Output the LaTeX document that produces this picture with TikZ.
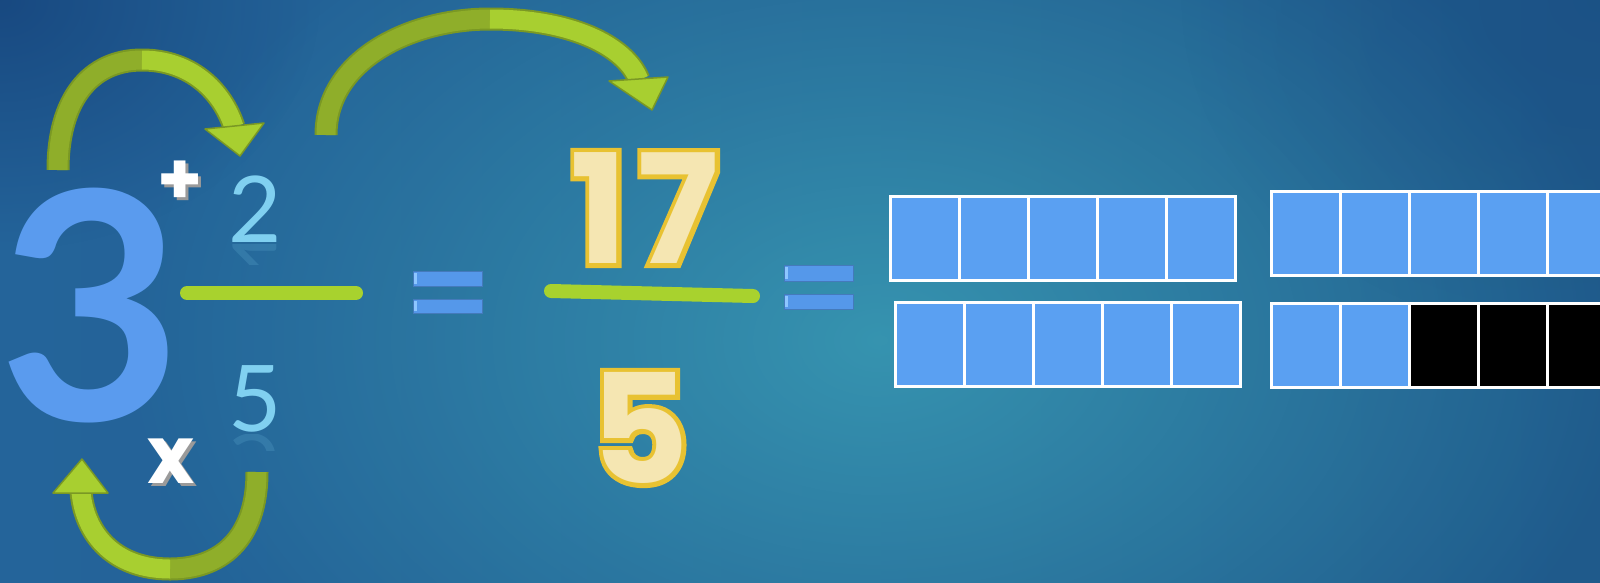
\documentclass[tikz,border=0pt]{standalone}
\usepackage{fontspec}
\usetikzlibrary{fadings,calc}
\newfontfamily\pop{Poppins}
\newfontfamily\popout{Poppins}[UprightFeatures={FakeBold=6}, BoldFeatures={FakeBold=6}]
\newfontfamily\lat{Lato}
\definecolor{bgL}{HTML}{24649A}
\definecolor{bgM}{HTML}{3692AE}
\definecolor{bgR}{HTML}{1F5A8B}
\definecolor{bgDark}{HTML}{17467E}
\definecolor{glow}{HTML}{3A9DB5}
\definecolor{arrD}{HTML}{7A9824}
\definecolor{arrM}{HTML}{8FAE2A}
\definecolor{arrL}{HTML}{A8CF30}
\definecolor{threeblue}{HTML}{5A9BEE}
\definecolor{lightdigit}{HTML}{80D0F0}
\definecolor{barGreen}{HTML}{A8D22E}
\definecolor{eqBlue}{HTML}{5598EA}
\definecolor{eqLight}{HTML}{8DC6FF}
\definecolor{cream}{HTML}{F5E6B2}
\definecolor{gold}{HTML}{E8C232}
\definecolor{cellBlue}{HTML}{5AA0F2}
\definecolor{shadowGrey}{HTML}{9A9A9A}
\tikzfading[name=glowfade, inner color=transparent!0, outer color=transparent!100]
\begin{document}
\begin{tikzpicture}[x=1pt,y=-1pt,
  digit/.style={inner sep=0pt, outer sep=0pt, anchor=center},
  band/.style={line width=23pt, draw=arrD},
  bandA/.style={line width=19pt, draw=arrM},
  bandB/.style={line width=19pt, draw=arrL},
  headshape/.style={fill=arrL, draw=arrD, line width=1.5pt, line join=round},
  bar/.style={line width=14pt, draw=barGreen, line cap=round},
  eqbar/.style={fill=eqBlue, draw=eqBlue!80!black, line width=0.6pt},
  eqhi/.style={fill=eqLight},
  cell/.style={draw=white, line width=3pt, fill=cellBlue, minimum width=69pt, minimum height=84pt, inner sep=0pt, outer sep=0pt},
  blackcell/.style={cell, fill=black},
  symb/.style={inner sep=0pt, outer sep=0pt, anchor=center, text=white, font=\pop\bfseries\fontsize{72}{72}\selectfont},
  symbshadow/.style={symb, text=shadowGrey},
  smalldigit/.style={digit, text=lightdigit, font=\lat\fontsize{92}{92}\selectfont},
  bigout/.style={digit, text=gold, font=\popout\bfseries\fontsize{152}{152}\selectfont},
  bigin/.style={digit, text=cream, font=\pop\bfseries\fontsize{152}{152}\selectfont}
]
\useasboundingbox (0,0) rectangle (1600,582);
% ---------- background ----------
\shade[left color=bgL, middle color=bgM, right color=bgR] (0,0) rectangle (1600,582);
\fill[glow, path fading=glowfade, fill opacity=0.85] (880,340) ellipse (760 and 520);
\fill[bgDark, path fading=glowfade, fill opacity=0.9] (0,0) ellipse (320 and 250);
\fill[bgDark, path fading=glowfade, fill opacity=0.4] (1600,0) ellipse (420 and 340);

% ---------- mixed number ----------
\node[digit, text=threeblue, font=\lat\bfseries\fontsize{318}{318}\selectfont] (three) at (91,306) {3};
\node[smalldigit] (two) at (255,209) {2};
\node[smalldigit] (fiveS) at (255,399) {5};
% faint reflections
\begin{scope}
  \clip (220,244) rectangle (290,264);
  \begin{scope}[shift={(255,277)}]
    \node[smalldigit, yscale=-1, transform shape, opacity=0.16] (twoR) at (0,0) {2};
  \end{scope}
\end{scope}
\begin{scope}
  \clip (220,434) rectangle (290,450);
  \begin{scope}[shift={(255,467)}]
    \node[smalldigit, yscale=-1, transform shape, opacity=0.16] (fiveR) at (0,0) {5};
  \end{scope}
\end{scope}
\coordinate (barAL) at (187,293);
\coordinate (barAR) at (356,293);
\draw[bar] (barAL) -- (barAR);

\node[symbshadow] (plusS) at (183,186) {+};
\node[symb] (plus) at (180,183) {+};
\node[symbshadow, font=\pop\bfseries\fontsize{80}{80}\selectfont] (timesS) at (174,464) {x};
\node[symb, font=\pop\bfseries\fontsize{80}{80}\selectfont] (times) at (171,461) {x};

% ---------- arrows ----------
% arrow 1: from 3 over to 2
\coordinate (a1t) at (58,170);
\coordinate (a1a) at (142,60);
\coordinate (a1b) at (234,127);
\coordinate (a1c1) at (205,129);
\coordinate (a1c2) at (264,123);
\coordinate (a1tip) at (240,156);
\draw[band] (a1t) .. controls (58,100) and (90,60) .. (a1a) .. controls (190,60) and (222,90) .. (a1b);
\draw[bandA] (a1t) .. controls (58,100) and (90,60) .. (a1a);
\draw[bandB] (a1a) .. controls (190,60) and (222,90) .. (a1b);
\filldraw[headshape] (a1c1) -- (a1tip) -- (a1c2) -- cycle;

% arrow 2: from fraction to 17
\coordinate (a2t) at (326,135);
\coordinate (a2a) at (490,19);
\coordinate (a2b) at (639,80);
\coordinate (a2c1) at (609,81);
\coordinate (a2c2) at (668,77);
\coordinate (a2tip) at (652,110);
\draw[band] (a2t) .. controls (326,60) and (410,19) .. (a2a) .. controls (570,19) and (625,45) .. (a2b);
\draw[bandA] (a2t) .. controls (326,60) and (410,19) .. (a2a);
\draw[bandB] (a2a) .. controls (570,19) and (625,45) .. (a2b);
\filldraw[headshape] (a2c1) -- (a2tip) -- (a2c2) -- cycle;

% arrow 3: from 5 back to 3
\coordinate (a3t) at (257,472);
\coordinate (a3a) at (170,569);
\coordinate (a3b) at (81,492);
\coordinate (a3c1) at (53,493);
\coordinate (a3c2) at (108,493);
\coordinate (a3tip) at (82,459);
\draw[band] (a3t) .. controls (257,540) and (220,569) .. (a3a) .. controls (115,569) and (85,535) .. (a3b);
\draw[bandA] (a3t) .. controls (257,540) and (220,569) .. (a3a);
\draw[bandB] (a3a) .. controls (115,569) and (85,535) .. (a3b);
\filldraw[headshape] (a3c1) -- (a3tip) -- (a3c2) -- cycle;

% ---------- first equals ----------
\fill[eqbar] (413,271) rectangle (482,286);
\fill[eqbar] (413,299) rectangle (482,313);
\fill[eqhi] (414,273) rectangle (417,284);
\fill[eqhi] (414,301) rectangle (417,311);

% ---------- improper fraction ----------
\node[bigout] (seventeenO) at (645,208) {1\kern10pt 7};
\node[bigin] (seventeen) at (645,208) {1\kern10pt 7};
\node[bigout] (fiveBO) at (640,428) {5};
\node[bigin] (fiveB) at (640,428) {5};
\coordinate (barBL) at (551,291);
\coordinate (barBR) at (753,296);
\draw[bar] (barBL) -- (barBR);

% ---------- second equals ----------
\fill[eqbar] (784,265) rectangle (853,281);
\fill[eqbar] (784,294) rectangle (853,309);
\fill[eqhi] (785,267) rectangle (788,279);
\fill[eqhi] (785,296) rectangle (788,307);

% ---------- strips ----------
\foreach \i in {0,...,4}{
  \node[cell] (tl\i) at ({890+34.5+69*\i},238) {};
  \node[cell] (bl\i) at ({895+34.5+69*\i},344.5) {};
  \node[cell] (tr\i) at ({1271+34.5+69*\i},233.5) {};
}
\foreach \i in {0,1}{
  \node[cell] (br\i) at ({1271+34.5+69*\i},345) {};
}
\foreach \i in {2,3,4}{
  \node[blackcell] (br\i) at ({1271+34.5+69*\i},345) {};
}
\end{tikzpicture}
\end{document}
